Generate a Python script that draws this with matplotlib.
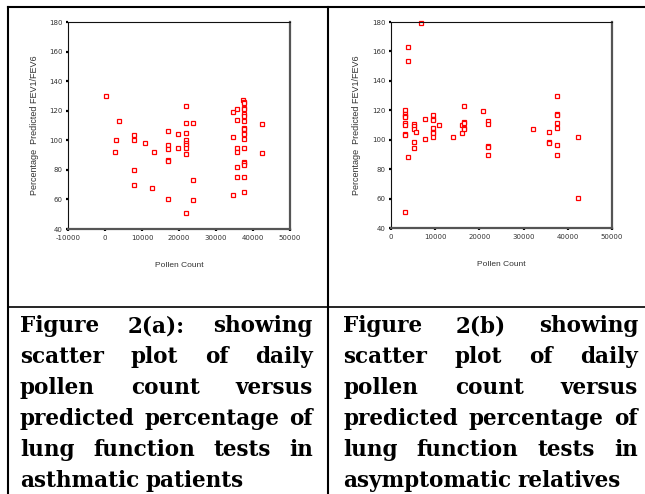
import numpy as np
import matplotlib
matplotlib.use("Agg")
import matplotlib.pyplot as plt
from matplotlib.lines import Line2D

# Figure 2(a): asthmatic patients
pollen_a = [300, 3900, 3100, 2800, 7900, 7900, 7900, 7900, 10900, 13300, 12600,
            16900, 16900, 16900, 16900, 16900, 16900, 19700, 19700,
            22000, 22000, 22000, 22000, 22000, 22000, 22000, 22000, 22000,
            23900, 23900, 23900, 34700, 34700, 34700,
            35800, 35800, 35800, 35800, 35800, 35800,
            37400, 37700, 37700, 37700, 37700, 37700, 37700, 37700, 37700,
            37700, 37700, 37700, 37700, 37700, 37700, 37700, 37700, 37700, 37700,
            42300, 42300]
fev_a = [130, 113, 100, 92, 103.5, 100, 80, 70, 98.5, 92, 68,
         106, 97, 94, 87, 86, 60, 104, 95,
         123, 112, 104.7, 100, 98.4, 96.6, 94.8, 91, 50.5,
         112, 73, 59.3, 119, 102, 63,
         121, 114, 95, 92, 82, 75,
         127, 126, 125, 122, 121, 118, 116.6, 113.3,
         108.5, 107.4, 105.2, 104.3, 101.1, 94.8, 85.2, 84.3, 83.6, 75, 65,
         111, 91.2]

# Figure 2(b): asymptomatic relatives
pollen_b = [6900, 3800, 3800, 3100, 3100, 3100, 3100, 3100, 3100, 3100, 3100, 3100,
            3800, 5100, 5100, 5100, 5600, 5100, 5100, 7800, 7800,
            9550, 9550, 9550, 9550, 9550, 9550, 9550, 10900, 14000, 16000, 16000,
            16600, 16600, 16600, 16600, 16600, 20900,
            21950, 21950, 21950, 21950, 21950, 32200, 35700, 35700, 35700,
            37500, 37500, 37500, 37500, 37500, 37500, 37500, 42200, 42200]
fev_b = [179.3, 163, 153.5, 120, 117.5, 116.3, 115.2, 111.2, 109.8, 104.2, 103, 51,
         88, 110.5, 109.3, 107.3, 105, 98.3, 94.7, 114, 100.5,
         117, 114, 113.2, 108, 105, 104.4, 102.1, 110.2, 102.1, 110, 104.4,
         123, 112.2, 111.6, 108.2, 107.1, 119.3,
         112.5, 110.9, 96, 95.3, 89.5, 107.3, 105, 98.3, 97.6,
         129.7, 117.2, 116.6, 111.2, 108, 96.3, 89.5, 102.1, 60.4]

xticks_a = [-10000, 0, 10000, 20000, 30000, 40000, 50000]
xticks_b = [0, 10000, 20000, 30000, 40000, 50000]
yticks = [40, 60, 80, 100, 120, 140, 160, 180]

caption_a = ["Figure 2(a): showing", "scatter plot of daily", "pollen count versus",
             "predicted percentage of", "lung function tests in", "asthmatic patients"]
caption_b = ["Figure 2(b) showing", "scatter plot of daily", "pollen count versus",
             "predicted percentage of", "lung function tests in", "asymptomatic relatives"]

W, H = 645, 494
fig = plt.figure(figsize=(W / 100, H / 100), dpi=100)


def fx(px):
    return px / W


def fy(py):
    return 1 - py / H


def scatter_panel(rect, xs, ys, xticks, ylab_x):
    left, top, right, bottom = rect
    ax = fig.add_axes([fx(left), fy(bottom), fx(right - left), (bottom - top) / H])
    ax.plot(xs, ys, linestyle="none", marker="s", markersize=2.3,
            markerfacecolor="white", markeredgecolor="#ff0000",
            markeredgewidth=0.9, clip_on=False)
    ax.set_xlim(xticks[0], xticks[-1])
    ax.set_ylim(40, 180)
    ax.set_xticks(xticks)
    ax.set_xticklabels([str(t) for t in xticks])
    ax.set_yticks(yticks)
    ax.tick_params(direction="out", length=1.6, width=1.6, color="black",
                   labelsize=5, labelcolor="#333333", pad=2.5)
    for s in ("left", "top"):
        ax.spines[s].set_linewidth(0.8)
        ax.spines[s].set_color("#111111")
    for s in ("right", "bottom"):
        ax.spines[s].set_linewidth(1.6)
        ax.spines[s].set_color("#555555")
    ax.set_xlabel("Pollen Count", fontsize=6, color="#333333", family="Liberation Sans")
    ax.set_ylabel("Percentage  Predicted FEV1/FEV6", fontsize=6.5, color="#333333",
                  family="Liberation Sans")
    ax.xaxis.set_label_coords(0.5, -0.16)
    ax.yaxis.set_label_coords(ylab_x, 0.5)
    return ax


scatter_panel((68, 22, 290, 229), pollen_a, fev_a, xticks_a, -0.13)
scatter_panel((391, 22, 612, 228), pollen_b, fev_b, xticks_b, -0.135)

# table borders
lw = 1.5
fig.add_artist(Line2D([fx(8), fx(645)], [fy(7.5), fy(7.5)], color="black", lw=lw))
fig.add_artist(Line2D([fx(8), fx(8)], [fy(7.5), fy(494)], color="black", lw=lw))
fig.add_artist(Line2D([fx(328), fx(328)], [fy(7.5), fy(494)], color="black", lw=lw))
fig.add_artist(Line2D([fx(8), fx(645)], [fy(306.5), fy(306.5)], color="black", lw=1.2))

# justified captions
renderer = fig.canvas.get_renderer()
font = dict(family="DejaVu Serif", weight="bold", size=15.5, color="black")


def justify(lines, x0, x1, y0, step):
    for i, line in enumerate(lines):
        words = line.split()
        y = fy(y0 + i * step)
        texts = [fig.text(0, y, w, ha="left", va="baseline", **font) for w in words]
        widths = [t.get_window_extent(renderer).width for t in texts]
        last = i == len(lines) - 1
        if last or len(words) == 1:
            gap = renderer.points_to_pixels(font["size"]) * 0.3
        else:
            gap = (x1 - x0 - sum(widths)) / (len(words) - 1)
        x = x0
        for t, w in zip(texts, widths):
            t.set_x(fx(x))
            x += w + gap


justify(caption_a, 20, 313, 332, 31)
justify(caption_b, 343, 638, 332, 31)

fig.savefig("out.png", dpi=100)
